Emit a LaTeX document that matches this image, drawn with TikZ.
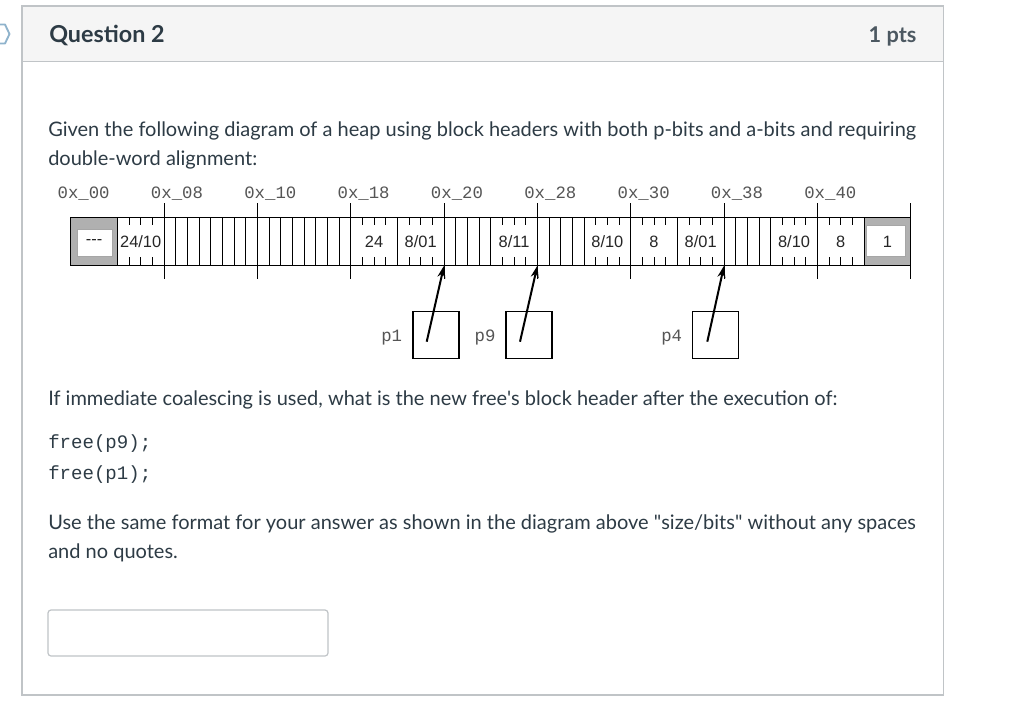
\documentclass[tikz,border=0pt]{standalone}
\usepackage{fontspec}
\setmainfont{Lato}
\newfontfamily\monof{Liberation Mono}
\newfontfamily\cellf{Liberation Sans}
\usetikzlibrary{arrows.meta}
\definecolor{canvastext}{HTML}{2D3B45}
\definecolor{canvasborder}{HTML}{C0C4C7}
\definecolor{headfill}{HTML}{F5F5F5}
\definecolor{chevroncol}{HTML}{8FB3CC}
\definecolor{addrgray}{HTML}{555555}
\definecolor{hatchgray}{HTML}{B0B0B0}
\begin{document}
\begin{tikzpicture}[x=0.75pt,y=-0.75pt,
  bodytext/.style={anchor=base west,inner sep=0pt,text=canvastext,font=\fontsize{15}{18}\selectfont},
  codetext/.style={anchor=base west,inner sep=0pt,text=canvastext,font=\monof\fontsize{14.3}{16}\selectfont},
  headtext/.style={inner sep=0pt,text=canvastext,font=\bfseries\fontsize{17.5}{20}\selectfont},
  ptstext/.style={inner sep=0pt,text=canvastext!85!white,font=\bfseries\fontsize{16.3}{20}\selectfont},
  celltext/.style={inner sep=0pt,text=black!85,font=\cellf\fontsize{12.3}{14}\selectfont},
  addrtext/.style={anchor=base,inner sep=0pt,text=addrgray,font=\monof\fontsize{13}{15}\selectfont},
  heapline/.style={draw=black,line width=0.9pt},
  thinline/.style={draw=black,line width=0.75pt},
  ptrbox/.style={draw=black,line width=0.9pt,minimum width=34.5pt,minimum height=35.25pt,inner sep=0pt},
  ptrarrow/.style={draw=black,line width=1.5pt,-{Stealth[length=9pt,width=6pt]}},
  frameline/.style={draw=canvasborder,line width=1pt}]
\useasboundingbox (0,0) rectangle (1024,711);
\fill[white] (0,0) rectangle (1024,711);
% chevron
\draw[chevroncol,line width=1.4pt,line join=round] (0,24.5) -- (5,24.5) -- (9.5,34) -- (5,43.5) -- (0,43.5);
% frame and header
\fill[headfill] (22,6) rectangle (943.3,61.7);
\draw[frameline] (22,6) rectangle (943.3,695);
\draw[frameline] (22,61.7) -- (943.3,61.7);
\node[headtext,anchor=base west] (qtitle) at (49,42.5) {Question 2};
\node[ptstext,anchor=base east] (qpts) at (916.7,42.5) {1 pts};
% body text
\node[bodytext] (t1) at (48,136.5) {Given the following diagram of a heap using block headers with both p-bits and a-bits and requiring};
\node[bodytext] (t2) at (48,165) {double-word alignment:};
\node[bodytext] (t3) at (48,405.5) {If immediate coalescing is used, what is the new free\textquotesingle s block header after the execution of:};
\node[codetext] (c1) at (48,448.5) {free(p9);};
\node[codetext] (c2) at (48,479.5) {free(p1);};
\node[bodytext] (t4) at (48,529) {Use the same format for your answer as shown in the diagram above \textquotedbl size/bits\textquotedbl\ without any spaces};
\node[bodytext] (t5) at (48,558) {and no quotes.};
% answer box
\draw[frameline,line width=0.9pt,rounded corners=2.25pt] (48,610) rectangle (328,656);
% heap
\def\hT{217.7}
\def\hB{265.7}
\begin{scope}[x=8.75pt,xshift=53.025pt]
  \fill[hatchgray] (0,\hT) rectangle (4,\hB);
  \fill[hatchgray] (68,\hT) rectangle (72,\hB);
  \filldraw[fill=white,draw=gray!70,line width=0.4pt] (0.54,229) rectangle (3.6,256);
  \filldraw[fill=white,draw=gray!70,line width=0.4pt] (68.23,225) rectangle (71.51,256.7);
  \foreach \i in {4,8,...,68} \draw[thinline] (\i,\hT) -- (\i,\hB);
  \foreach \i in {9,...,23,33,34,35,41,42,43,57,58,59} \draw[thinline] (\i,\hT) -- (\i,\hB);
  \foreach \w in {4,24,28,36,44,48,52,60,64}
    \foreach \j in {1,2,3} {
      \draw[thinline] (\w+\j,\hT) -- (\w+\j,225);
      \draw[thinline] (\w+\j,257) -- (\w+\j,\hB);
    }
  \foreach \k in {1,...,9} \draw[thinline] (8*\k,203) -- (8*\k,279);
  \draw[heapline] (0,\hT) rectangle (72,\hB);
  \foreach \k/\lab in {0/00,1/08,2/10,3/18,4/20,5/28,6/30,7/38,8/40}
    \node[addrtext] (addr\k) at ({8*\k+1.11},198) {0x\_\lab};
  \node[celltext] (w00) at (2,241.7) {-{}-{}-};
  \node[celltext] (w04) at (6,241.7) {24/10};
  \node[celltext] (w18) at (26,241.7) {24};
  \node[celltext] (w1c) at (30,241.7) {8/01};
  \node[celltext] (w24) at (38,241.7) {8/11};
  \node[celltext] (w2c) at (46,241.7) {8/10};
  \node[celltext] (w30) at (50,241.7) {8};
  \node[celltext] (w34) at (54,241.7) {8/01};
  \node[celltext] (w3c) at (62,241.7) {8/10};
  \node[celltext] (w40) at (66,241.7) {8};
  \node[celltext] (w44) at (70,241.7) {1};
  \coordinate (a20) at (32,\hB);
  \coordinate (a28) at (40,\hB);
  \coordinate (a38) at (56,\hB);
\end{scope}
% pointers
\node[ptrbox] (p1box) at (435.9,334.7) {};
\node[ptrbox] (p9box) at (529,334.7) {};
\node[ptrbox] (p4box) at (715.3,334.7) {};
\node[addrtext] (p1lab) at (391.7,341.7) {p1};
\node[addrtext] (p9lab) at (485,341.7) {p9};
\node[addrtext] (p4lab) at (671.7,341.7) {p4};
\coordinate (p1s) at ([shift={(-9.2,7)}]p1box.center);
\coordinate (p9s) at ([shift={(-9,7)}]p9box.center);
\coordinate (p4s) at ([shift={(-8,7)}]p4box.center);
\draw[ptrarrow] (p1s) -- (a20);
\draw[ptrarrow] (p9s) -- (a28);
\draw[ptrarrow] (p4s) -- (a38);
\end{tikzpicture}
\end{document}
